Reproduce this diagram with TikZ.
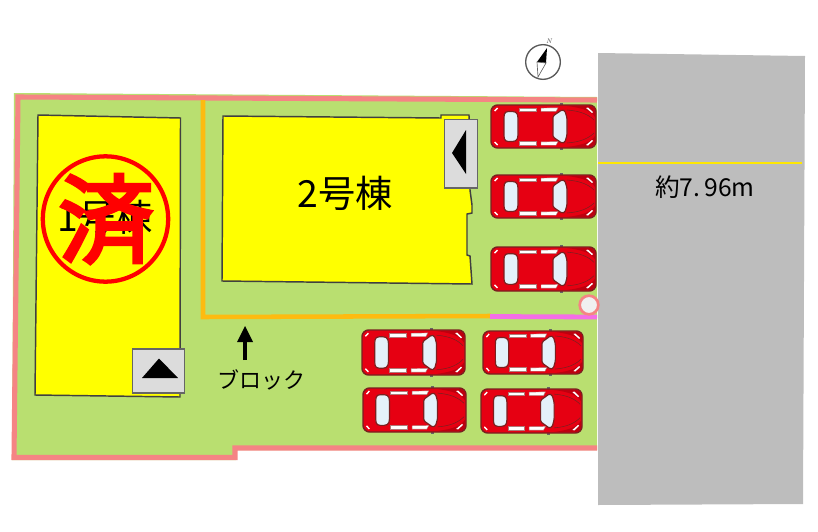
\documentclass[tikz,border=0pt]{standalone}
\usepackage{fontspec}
\newfontfamily\cjk{Noto Sans CJK JP}
\newfontfamily\cjkstamp[FakeBold=3.5]{Noto Sans CJK JP}
\definecolor{lawn}{HTML}{B9DF70}
\definecolor{bound}{HTML}{F58484}
\definecolor{road}{HTML}{BDBDBD}
\definecolor{bldg}{HTML}{FFFF00}
\definecolor{fence}{HTML}{FDBB10}
\definecolor{mag}{HTML}{F46EE6}
\definecolor{carred}{HTML}{E60012}
\definecolor{cardark}{HTML}{7A2020}
\definecolor{glass}{HTML}{E4F1FA}
\definecolor{boxg}{HTML}{DCDCDC}
\tikzset{
  bldgshape/.style={draw=black!75,line width=1.1pt,fill=bldg},
  boxshape/.style={draw=black!60,line width=1pt,fill=boxg},
  lbl/.style={font=\cjk,inner sep=0pt,text=black},
  glassp/.style={fill=glass,draw=cardark,line width=0.9pt,rounded corners=1pt},
  sidewin/.style={fill=white,draw=cardark!60,line width=0.3pt},
}
\begin{document}
\begin{tikzpicture}[x=0.75pt,y=-0.75pt]
\useasboundingbox (0,0) rectangle (818,532);
% ground
\fill[lawn] (14,93) -- (597,97) -- (597,450) -- (236,450) -- (236,460) -- (12,460) -- cycle;
\draw[bound,line width=3.8pt,line join=miter] (597,100) -- (18,97) -- (14,457.5) -- (235,457.5) -- (235,448) -- (597,448);
% road
\fill[road] (598,53) -- (805,56) -- (803,504) -- (598,505) -- cycle;
\draw[yellow!90!orange,line width=1.8pt] (598,163) -- (802,163);
\node[lbl,font=\cjk\fontsize{18.5}{20}\selectfont] (roadw) at (705,187) {約7.\,96m};
% fence
\draw[fence,line width=3.4pt,line join=miter] (203,100) -- (203,317) -- (491,316);
\draw[mag,line width=3.6pt] (490,316.5) -- (597,317);
\node[circle,draw=bound,fill=black!6,line width=2pt,minimum size=14pt,inner sep=0pt] (post) at (589,305) {};
% buildings
\draw[bldgshape] (38,115) -- (180.5,118) -- (180,397) -- (35,395) -- cycle;
\draw[bldgshape] (223,116) -- (441,118) -- (441,115) -- (469,115) -- (470,190) -- (472,205) -- (472,213) -- (467,214) -- (467,255) -- (470,256) -- (472,284) -- (222,281) -- cycle;
\node[lbl,font=\cjk\fontsize{28}{30}\selectfont] (b2) at (345,193) {2号棟};
\node[lbl,font=\cjk\fontsize{28}{30}\selectfont] (b1) at (105,217) {1号棟};
% entrance boxes
\node[boxshape,minimum width=39pt,minimum height=33pt,inner sep=0pt] (ent1) at (158.5,371) {};
\fill[black] (159,358.5) -- (178,378) -- (142,378) -- cycle;
\node[boxshape,minimum width=25pt,minimum height=51.5pt,inner sep=0pt] (ent2) at (461,153.5) {};
\fill[black] (452,153) -- (466,130) -- (466,174) -- cycle;
% cars
\foreach \cx/\cy/\cw/\ch in {491/105/105/43, 491/175/105/43, 491/247/105/44, 362/330/103/45, 483/331/100/43, 363/388/103/44, 481/389/101/44}{
 \begin{scope}[shift={(\cx,\cy)},xscale=\cw/105,yscale=\ch/43]
  \fill[black!60] (69,-2) rectangle (72,2);
  \fill[black!60] (69,41) rectangle (72,45);
  \draw[fill=carred,draw=cardark,line width=1.1pt,rounded corners=5pt] (0,0) rectangle (105,43);
  \fill[carred!82!black] (76,1) .. controls (92,3) and (100,6) .. (104,12) -- (104,4) -- (100,1) -- cycle;
  \fill[carred!82!black] (76,42) .. controls (92,40) and (100,37) .. (104,31) -- (104,39) -- (100,42) -- cycle;
  \draw[cardark,line width=0.4pt] (76,5) .. controls (90,6) and (98,10) .. (103,15);
  \draw[cardark,line width=0.4pt] (76,38) .. controls (90,37) and (98,33) .. (103,28);
  \draw[glassp] (16,6.5) -- (23,6.5) -- (26,8) -- (27,12) -- (27,31) -- (26,35) -- (23,36.5) -- (16,36.5) -- (13.5,35) -- (13,31) -- (13,12) -- (13.5,8) -- cycle;
  \draw[glassp] (62,11) -- (71,4.8) -- (74,6) -- (76,13) -- (76,30) -- (74,37) -- (71,38.2) -- (62,32) -- cycle;
  \foreach \yy in {2.8,36.6}{
   \draw[sidewin] (28,\yy) rectangle (45,\yy+3.6);
   \draw[sidewin] (50,\yy+.3) -- (67,\yy) -- (65,\yy+3.6) -- (50,\yy+3.6) -- cycle;
  }
  \fill[white] (3,5.5) -- (6,2.5) -- (7,3.5) -- (4,6.5) -- cycle;
  \fill[white] (3,37.5) -- (6,40.5) -- (7,39.5) -- (4,36.5) -- cycle;
  \fill[white] (95,3) -- (101,8) -- (102,7) -- (97,2.5) -- cycle;
  \fill[white] (95,40) -- (101,35) -- (102,36) -- (97,40.5) -- cycle;
 \end{scope}
}
% compass
\node[circle,draw=black!65,fill=white,line width=1pt,minimum size=26pt,inner sep=0pt] (comp) at (543,62) {};
\fill[black] (547,48) -- (537,62) -- (546,63) -- cycle;
\draw[black!60,fill=white,line width=0.5pt] (537,62) -- (538,77) -- (546,63) -- cycle;
\node[font=\itshape\fontsize{5}{5}\selectfont,inner sep=0pt,text=black!70] (north) at (549,41) {N};
% block label
\coordinate (arrs) at (245,360);
\coordinate (arre) at (245,326);
\draw[black,line width=3.2pt] (arrs) -- (245,340);
\fill[black] (arre) -- (253,342) -- (237,342) -- cycle;
\node[lbl,font=\cjk\fontsize{16.5}{18}\selectfont] (blk) at (261,380) {ブロック};
% sold stamp
\node[circle,draw=red,line width=3.2pt,minimum size=94pt,inner sep=0pt] (stamp) at (105.5,219) {};
\node[font=\cjkstamp\fontsize{72}{74}\selectfont,text=red,inner sep=0pt] (sold) at (106,219) {済};
\end{tikzpicture}
\end{document}
